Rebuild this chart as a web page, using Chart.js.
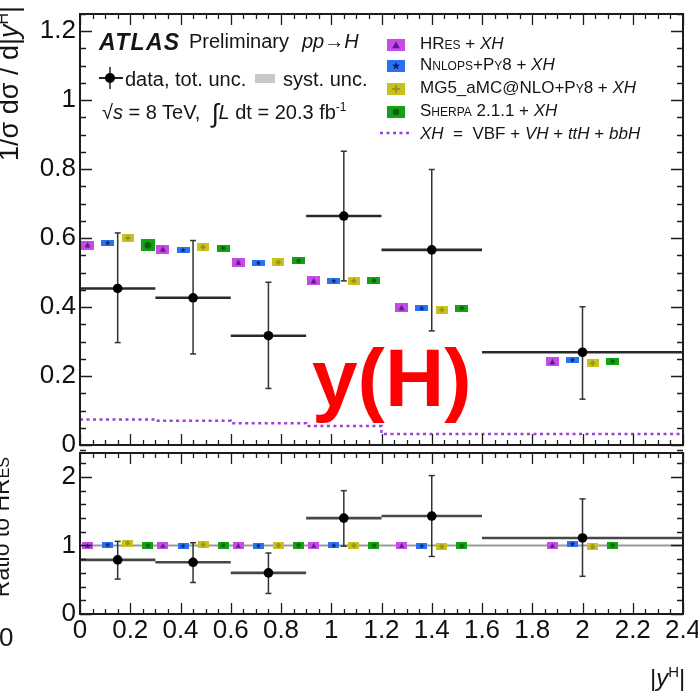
<!DOCTYPE html>
<html>
<head>
<meta charset="utf-8">
<title>Higgs rapidity distribution</title>
<script src="https://cdn.jsdelivr.net/npm/chart.js@4.4.1/dist/chart.umd.min.js"></script>
<style>
  html, body { margin: 0; padding: 0; background: #fff; }
  #page { position: relative; width: 698px; height: 693px; overflow: hidden;
          font-family: "Liberation Sans", Arial, Helvetica, sans-serif; color: #151515; }
  .cv { position: absolute; left: 0; }
  .txt { position: absolute; white-space: nowrap; line-height: 1; }
  .it { font-style: italic; }
  .sc { font-variant: small-caps; }
  .rot { position: absolute; transform-origin: 0 0; transform: rotate(-90deg);
         white-space: nowrap; text-align: right; }
</style>
</head>
<body>
<div id="page">
  <div class="cv" style="top:-20px"><canvas id="mainCanvas" width="703" height="490"></canvas></div>
  <div class="cv" style="top:433px"><canvas id="ratioCanvas" width="703" height="260"></canvas></div>

  <!-- axis titles -->
  <div class="rot" style="left:-11px;top:306px;width:300px;font-size:27px;line-height:27px;">1/σ dσ / d|<span class="it">y</span><sup style="font-size:16px">H</sup>|</div>
  <div class="rot" style="left:-10px;top:757px;width:300px;font-size:23px;line-height:23px;">Ratio to H<span class="sc">Res</span></div>
  <div class="txt" style="left:-1px;top:624px;font-size:26px;">0</div>
  <div class="txt" style="left:650px;top:664px;font-size:24px;">|<span class="it">y</span><sup style="font-size:15px;vertical-align:9px">H</sup>|</div>

  <!-- experiment label block -->
  <div class="txt" style="left:99px;top:31px;font-size:23px;font-weight:bold;font-style:italic;letter-spacing:1.3px;">ATLAS</div>
  <div class="txt" style="left:189px;top:31px;font-size:20px;">Preliminary</div>
  <div class="txt it" style="left:302px;top:31px;font-size:20px;">pp→H</div>

  <svg style="position:absolute;left:98px;top:66px" width="26" height="24">
    <line x1="1" y1="12" x2="25" y2="12" stroke="#222" stroke-width="2"/>
    <line x1="12" y1="1" x2="12" y2="23" stroke="#222" stroke-width="1.5"/>
    <circle cx="12" cy="12" r="5" fill="#000"/>
  </svg>
  <div class="txt" style="left:125px;top:69px;font-size:20px;">data, tot. unc.</div>
  <div style="position:absolute;left:255px;top:74px;width:20px;height:9px;background:#c8c8c8;"></div>
  <div class="txt" style="left:283px;top:69px;font-size:20px;">syst. unc.</div>
  <div class="txt" style="left:102px;top:100px;font-size:20px;">√<span class="it">s</span> = 8 TeV, &nbsp;<span style="font-size:26px;vertical-align:-3px">∫</span><span class="it">L</span> dt = 20.3 fb<sup style="font-size:12px">-1</sup></div>

  <!-- prediction legend -->
  <div id="legHres"   style="position:absolute;left:387px;top:37px"></div>
  <div id="legNnlops" style="position:absolute;left:387px;top:58px"></div>
  <div id="legMg5"    style="position:absolute;left:387px;top:81px"></div>
  <div id="legSherpa" style="position:absolute;left:387px;top:104px"></div>
  <svg style="position:absolute;left:380px;top:130px" width="30" height="6">
    <line x1="0" y1="3" x2="30" y2="3" stroke="#9b40d8" stroke-width="2.5" stroke-dasharray="3 3.5"/>
  </svg>
  <div class="txt" style="left:420px;top:35px;font-size:17px;">H<span class="sc">Res</span> + <span class="it">XH</span></div>
  <div class="txt" style="left:420px;top:56px;font-size:17px;">N<span class="sc">nlops</span>+P<span class="sc">y</span>8 + <span class="it">XH</span></div>
  <div class="txt" style="left:420px;top:79px;font-size:17px;">MG5_aMC@NLO+P<span class="sc">y</span>8 + <span class="it">XH</span></div>
  <div class="txt" style="left:420px;top:102px;font-size:17px;">S<span class="sc">herpa</span> 2.1.1 + <span class="it">XH</span></div>
  <div class="txt" style="left:420px;top:125px;font-size:17px;"><span class="it">XH</span> &nbsp;= &nbsp;VBF + <span class="it">VH</span> + <span class="it">ttH</span> + <span class="it">bbH</span></div>

  <div class="txt" style="left:312px;top:337px;font-size:82px;font-weight:bold;color:#ff0000;">y(H)</div>
</div>

<script>
// ---------- binning ----------
const binEdges   = [0, 0.3, 0.6, 0.9, 1.2, 1.6, 2.4];
const binCentres = [0.15, 0.45, 0.75, 1.05, 1.4, 2.0];

// ---------- normalised cross section 1/σ dσ/d|yH| ----------
const dataXsec   = [0.454, 0.427, 0.317, 0.664, 0.566, 0.269];
const dataTotHi  = [0.615, 0.593, 0.472, 0.852, 0.799, 0.401];
const dataTotLo  = [0.297, 0.264, 0.164, 0.476, 0.331, 0.133];

const hresXsec   = [0.580, 0.568, 0.530, 0.476, 0.398, 0.241];
const nnlopsXsec = [0.586, 0.565, 0.528, 0.476, 0.396, 0.246];
const mg5Xsec    = [0.600, 0.574, 0.530, 0.476, 0.392, 0.237];
const sherpaXsec = [0.579, 0.571, 0.534, 0.477, 0.397, 0.243];
const xhXsec     = [0.074, 0.074, 0.070, 0.063, 0.055, 0.032];

// ---------- ratio to HRes ----------
const ratioData   = [0.79, 0.755, 0.60, 1.40, 1.43, 1.11];
const ratioTotHi  = [1.06, 1.04, 0.89, 1.80, 2.02, 1.68];
const ratioTotLo  = [0.51, 0.46, 0.30, 0.99, 0.84, 0.55];
const hresRatio   = [1.0, 1.0, 1.0, 1.0, 1.0, 1.0];
const nnlopsRatio = [1.01, 0.995, 0.997, 1.0, 0.995, 1.02];
const mg5Ratio    = [1.035, 1.01, 1.0, 1.0, 0.985, 0.983];
const sherpaRatio = [1.0, 1.005, 1.007, 1.002, 0.997, 1.005];
const ratioReference = 1.0;

// ---------- tick labels ----------
const xTickLabels      = ['0', '0.2', '0.4', '0.6', '0.8', '1', '1.2', '1.4', '1.6', '1.8', '2', '2.2', '2.4'];
const mainYTickLabels  = ['0', '0.2', '0.4', '0.6', '0.8', '1', '1.2'];
const ratioYTickLabels = ['0', '1', '2'];

// ---------- styling ----------
const FONT = '"Liberation Sans", Arial, Helvetica, sans-serif';
const predOffsets = [-0.12, -0.04, 0.04, 0.12];   // horizontal spread of the four generators in each bin
const INK = '#1c1c1c';

function steps(lo, hi, step) {
  const out = [];
  const n = Math.round((hi - lo) / step);
  for (let i = 0; i <= n; i++) out.push(+(lo + i * step).toFixed(4));
  return out;
}

// coloured uncertainty box with the generator symbol in the middle
function markerImage(fill, ink, glyph, w, h) {
  const c = document.createElement('canvas');
  c.width = w; c.height = h;
  const g = c.getContext('2d');
  g.fillStyle = fill;
  g.fillRect(0, 0, w, h);
  g.fillStyle = ink;
  const cx = w / 2, cy = h / 2;
  const s = Math.max(2.5, Math.min(w, h) * 0.32);
  g.beginPath();
  if (glyph === 'triangle') {
    g.moveTo(cx, cy - s); g.lineTo(cx + s, cy + s * 0.85); g.lineTo(cx - s, cy + s * 0.85); g.closePath(); g.fill();
  } else if (glyph === 'star') {
    for (let i = 0; i < 10; i++) {
      const r = i % 2 ? s * 0.45 : s * 1.1;
      const a = -Math.PI / 2 + i * Math.PI / 5;
      const px = cx + r * Math.cos(a), py = cy + r * Math.sin(a);
      i ? g.lineTo(px, py) : g.moveTo(px, py);
    }
    g.closePath(); g.fill();
  } else if (glyph === 'plus') {
    g.fillRect(cx - s, cy - 1, 2 * s, 2);
    g.fillRect(cx - 1, cy - s, 2, 2 * s);
  } else {
    g.arc(cx, cy, s * 0.85, 0, Math.PI * 2); g.fill();
  }
  return c;
}

const styleHres   = { fill: '#c64ae8', ink: '#5c1a86', glyph: 'triangle' };
const styleNnlops = { fill: '#2a72ee', ink: '#0c1f6e', glyph: 'star' };
const styleMg5    = { fill: '#c8c21e', ink: '#a08f1c', glyph: 'plus' };
const styleSherpa = { fill: '#16a016', ink: '#0b5e0b', glyph: 'circle' };

const mk = (st, w, h) => markerImage(st.fill, st.ink, st.glyph, w, h);

// legend swatches
[['legHres', styleHres], ['legNnlops', styleNnlops], ['legMg5', styleMg5], ['legSherpa', styleSherpa]]
  .forEach(([id, st]) => document.getElementById(id).appendChild(mk(st, 18, 12)));

// frame with inward major/minor ticks on all four sides
const frameTicks = {
  id: 'frameTicks',
  afterDatasetsDraw(chart, args, o) {
    const { ctx, chartArea: a, scales: { x, y } } = chart;
    ctx.save();
    ctx.strokeStyle = INK;
    ctx.lineWidth = 1.3;
    ctx.beginPath();
    const vx = (vals, len) => vals.forEach(v => {
      const p = Math.round(x.getPixelForValue(v)) + 0.5;
      ctx.moveTo(p, a.bottom); ctx.lineTo(p, a.bottom - len);
      ctx.moveTo(p, a.top);    ctx.lineTo(p, a.top + len);
    });
    const vy = (vals, len) => vals.forEach(v => {
      const p = Math.round(y.getPixelForValue(v)) + 0.5;
      ctx.moveTo(a.left, p);  ctx.lineTo(a.left + len, p);
      ctx.moveTo(a.right, p); ctx.lineTo(a.right - len, p);
    });
    vx(o.xMinor, 5); vx(o.xMajor, 11);
    vy(o.yMinor, 6); vy(o.yMajor, 12);
    ctx.stroke();
    ctx.lineWidth = 2;
    ctx.strokeRect(a.left, a.top, a.right - a.left, a.bottom - a.top);
    ctx.restore();
  }
};

const xTickValues = xTickLabels.map(Number);
const mainYTickValues = mainYTickLabels.map(Number);
const ratioYTickValues = ratioYTickLabels.map(Number);

function hBars(vals) {
  const pts = [];
  vals.forEach((v, i) => pts.push({ x: binEdges[i], y: v }, { x: binEdges[i + 1], y: v }, { x: binEdges[i + 1], y: null }));
  return pts;
}
function vBars(lo, hi) {
  const pts = [];
  binCentres.forEach((c, i) => pts.push({ x: c, y: lo[i] }, { x: c, y: hi[i] }, { x: c, y: null }));
  return pts;
}
function predSet(vals, k, styles) {
  return {
    data: binCentres.map((c, i) => ({ x: c + predOffsets[k], y: vals[i] })),
    showLine: false, pointStyle: styles, pointRadius: 7, order: 3
  };
}
function dataSets(vals, lo, hi, barColor) {
  return [
    { data: binCentres.map((c, i) => ({ x: c, y: vals[i] })), showLine: false,
      pointStyle: 'circle', pointRadius: 4.8, pointBackgroundColor: '#000', pointBorderWidth: 0, order: 0 },
    { data: vBars(lo, hi), borderColor: '#333', borderWidth: 1.5, spanGaps: false,
      pointStyle: 'line', pointRadius: 3, pointBorderColor: '#333', pointBorderWidth: 1.5, order: 1 },
    { data: hBars(vals), borderColor: barColor, borderWidth: 2.6, spanGaps: false, pointRadius: 0, order: 2 }
  ];
}

function yAxis(min, max, labels, values) {
  return {
    type: 'linear', min, max,
    grid: { display: false, drawTicks: false }, border: { display: false },
    afterFit: s => { s.width = 80; },
    afterBuildTicks: s => { s.ticks = values.map(v => ({ value: v })); },
    ticks: { padding: 4, color: '#111', font: { family: FONT, size: 26 },
             callback: v => labels[values.indexOf(v)] }
  };
}

const sameAll = (img) => binCentres.map(() => img);

// ---------- upper panel ----------
new Chart(document.getElementById('mainCanvas'), {
  type: 'line',
  data: {
    datasets: [
      ...dataSets(dataXsec, dataTotLo, dataTotHi, '#2a2a2a'),
      predSet(hresXsec,   0, sameAll(mk(styleHres, 13, 9))),
      predSet(nnlopsXsec, 1, sameAll(mk(styleNnlops, 13, 6))),
      predSet(mg5Xsec,    2, sameAll(mk(styleMg5, 12, 8))),
      predSet(sherpaXsec, 3, binCentres.map((c, i) => i === 0 ? mk(styleSherpa, 14, 12) : mk(styleSherpa, 13, 7))),
      { data: binEdges.map((e, i) => ({ x: e, y: xhXsec[Math.min(i, xhXsec.length - 1)] })),
        stepped: 'after', borderColor: '#9b40d8', borderWidth: 2.5, borderDash: [3, 3.5],
        pointRadius: 0, order: 4 }
    ]
  },
  options: {
    responsive: false, animation: false, events: [],
    layout: { padding: { left: 0, right: 20, top: 34, bottom: 25 } },
    plugins: {
      legend: { display: false }, tooltip: { enabled: false },
      frameTicks: { xMajor: xTickValues, xMinor: steps(0, 2.4, 0.05),
                    yMajor: mainYTickValues, yMinor: steps(0, 1.25, 0.05) }
    },
    scales: {
      x: { type: 'linear', min: 0, max: 2.4, display: false },
      y: yAxis(0, 1.25, mainYTickLabels, mainYTickValues)
    }
  },
  plugins: [frameTicks]
});

// ---------- ratio panel ----------
new Chart(document.getElementById('ratioCanvas'), {
  type: 'line',
  data: {
    datasets: [
      ...dataSets(ratioData, ratioTotLo, ratioTotHi, '#474747'),
      predSet(hresRatio,   0, sameAll(mk(styleHres, 11, 7))),
      predSet(nnlopsRatio, 1, sameAll(mk(styleNnlops, 11, 6))),
      predSet(mg5Ratio,    2, sameAll(mk(styleMg5, 11, 7))),
      predSet(sherpaRatio, 3, sameAll(mk(styleSherpa, 11, 7))),
      { data: [{ x: 0, y: ratioReference }, { x: 2.4, y: ratioReference }],
        borderColor: '#9a9a9a', borderWidth: 2, pointRadius: 0, order: 5 }
    ]
  },
  options: {
    responsive: false, animation: false, events: [],
    layout: { padding: { left: 0, right: 20, top: 20, bottom: 0 } },
    plugins: {
      legend: { display: false }, tooltip: { enabled: false },
      frameTicks: { xMajor: xTickValues, xMinor: steps(0, 2.4, 0.05),
                    yMajor: ratioYTickValues, yMinor: steps(0, 2.35, 0.2) }
    },
    scales: {
      x: {
        type: 'linear', min: 0, max: 2.4,
        grid: { display: false, drawTicks: false }, border: { display: false },
        afterFit: s => { s.height = 79; },
        afterBuildTicks: s => { s.ticks = xTickValues.map(v => ({ value: v })); },
        ticks: { padding: 1, autoSkip: false, maxRotation: 0, color: '#111',
                 font: { family: FONT, size: 26 },
                 callback: v => xTickLabels[xTickValues.indexOf(v)] }
      },
      y: yAxis(0, 2.35, ratioYTickLabels, ratioYTickValues)
    }
  },
  plugins: [frameTicks]
});
</script>
</body>
</html>
